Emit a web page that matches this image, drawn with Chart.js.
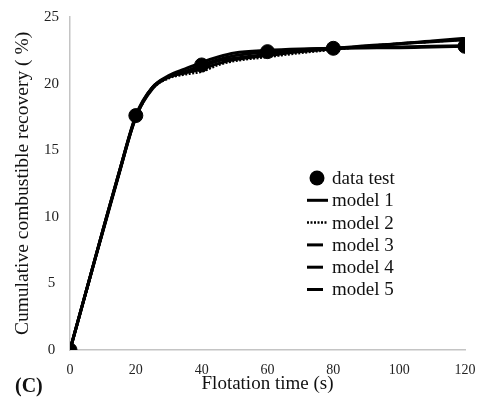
<!DOCTYPE html>
<html>
<head>
<meta charset="utf-8">
<script src="https://cdn.jsdelivr.net/npm/chart.js@4.4.1/dist/chart.umd.min.js"></script>
<style>
  body { margin: 0; background: #fff; }
  canvas { display: block; }
</style>
</head>
<body>
<canvas id="myChart" width="480" height="397"></canvas>
<script>
// data
var testTime = [0, 20, 40, 60, 80, 120];
var testRecovery = [0, 17.6, 21.4, 22.4, 22.65, 22.8];

var modelTime = [0, 5, 10, 15, 20, 25, 30, 35, 40, 45, 50, 60, 70, 80, 90, 100, 110, 120];
var model1 = [0, 4.5, 9.0, 13.4, 17.5, 19.7, 20.6, 21.1, 21.6, 22.0, 22.3, 22.5, 22.6, 22.65, 22.7, 22.7, 22.75, 22.8];
var model2 = [0, 4.4, 8.9, 13.3, 17.4, 19.6, 20.4, 20.7, 20.9, 21.4, 21.7, 22.0, 22.3, 22.55, 22.8, 23.0, 23.15, 23.3];
var model3 = [0, 4.5, 9.0, 13.4, 17.5, 19.7, 20.5, 20.9, 21.3, 21.7, 21.9, 22.2, 22.45, 22.65, 22.85, 23.0, 23.2, 23.4];
var model4 = [0, 4.5, 8.9, 13.3, 17.5, 19.6, 20.5, 20.8, 21.1, 21.5, 21.8, 22.1, 22.4, 22.6, 22.8, 23.0, 23.15, 23.3];
var model5 = [0, 4.5, 9.0, 13.4, 17.6, 19.7, 20.5, 20.9, 21.4, 21.8, 22.1, 22.4, 22.55, 22.65, 22.7, 22.75, 22.8, 22.85];

var xTicks = [0, 20, 40, 60, 80, 100, 120];
var yTicks = [0, 5, 10, 15, 20, 25];

function toPoints(xs, ys) {
    return xs.map(function (x, i) { return { x: x, y: ys[i] }; });
}

function modelSet(label, values, dash) {
    return {
        label: label,
        data: toPoints(modelTime, values),
        showLine: true,
        borderColor: '#000',
        backgroundColor: '#000',
        borderWidth: dash ? 2.5 : 3,
        borderDash: dash || [],
        pointRadius: 0,
        cubicInterpolationMode: 'monotone'
    };
}

var serif = "'Liberation Serif', 'Times New Roman', serif";

// legend drawn by hand in the empty part of the plot
var legendPlugin = {
    id: 'sideLegend',
    afterDraw: function (chart) {
        var c = chart.ctx;
        var sets = chart.data.datasets;
        c.save();
        c.font = '19px ' + serif;
        c.fillStyle = '#111';
        c.textBaseline = 'middle';
        sets.forEach(function (ds, i) {
            var y = 178 + i * 22.3;
            if (i === 0) {
                c.beginPath();
                c.arc(317, y, 7.5, 0, Math.PI * 2);
                c.fillStyle = '#000';
                c.fill();
            } else {
                c.beginPath();
                c.strokeStyle = '#000';
                c.lineWidth = ds.borderWidth;
                c.setLineDash(ds.borderDash);
                var x0 = 307, x1 = (i <= 2) ? 328 : 323;
                c.moveTo(x0, y);
                c.lineTo(x1, y);
                c.stroke();
                c.setLineDash([]);
            }
            c.fillStyle = '#111';
            c.fillText(ds.label, 332, y + 1);
        });
        c.font = 'bold 20px ' + serif;
        c.textBaseline = 'alphabetic';
        c.fillText('(C)', 15, 392);
        c.restore();
    }
};

var ctx = document.getElementById('myChart').getContext('2d');
var myChart = new Chart(ctx, {
    type: 'scatter',
    data: {
        datasets: [
            {
                label: 'data test',
                data: toPoints(testTime, testRecovery),
                showLine: false,
                pointRadius: 7,
                pointHoverRadius: 7,
                pointBackgroundColor: '#000',
                pointBorderColor: '#000'
            },
            modelSet('model 1', model1),
            modelSet('model 2', model2, [2, 1.5]),
            modelSet('model 3', model3),
            modelSet('model 4', model4),
            modelSet('model 5', model5)
        ]
    },
    options: {
        responsive: false,
        animation: false,
        layout: {
            padding: { left: 0, top: 17, right: 15, bottom: 0 }
        },
        plugins: {
            legend: { display: false },
            tooltip: { enabled: false }
        },
        scales: {
            x: {
                type: 'linear',
                min: 0,
                max: 120,
                afterBuildTicks: function (axis) {
                    axis.ticks = xTicks.map(function (v) { return { value: v }; });
                },
                afterFit: function (axis) {
                    axis.height = 47;
                    axis.paddingLeft = 0;
                    axis.paddingRight = 0;
                },
                grid: { display: false, drawTicks: false },
                border: { display: true, color: '#c4c4c4', width: 1.5 },
                ticks: {
                    padding: 12,
                    color: '#222',
                    font: { family: serif, size: 14 }
                },
                title: {
                    display: true,
                    text: 'Flotation time (s)',
                    color: '#111',
                    font: { family: serif, size: 19 },
                    padding: { top: 0, bottom: 1.5 }
                }
            },
            y: {
                min: 0,
                max: 25,
                afterBuildTicks: function (axis) {
                    axis.ticks = yTicks.map(function (v) { return { value: v }; });
                },
                afterFit: function (axis) {
                    axis.width = 70;
                    axis.paddingTop = 0;
                    axis.paddingBottom = 0;
                },
                grid: { display: false, drawTicks: false },
                border: { display: true, color: '#c4c4c4', width: 1.5 },
                ticks: {
                    padding: 11,
                    crossAlign: 'center',
                    color: '#222',
                    font: { family: serif, size: 15 }
                },
                title: {
                    display: true,
                    text: 'Cumulative combustible recovery ( %)',
                    color: '#111',
                    font: { family: serif, size: 19.5 },
                    padding: { top: 11, bottom: 0 }
                }
            }
        }
    },
    plugins: [legendPlugin]
});
</script>
</body>
</html>
